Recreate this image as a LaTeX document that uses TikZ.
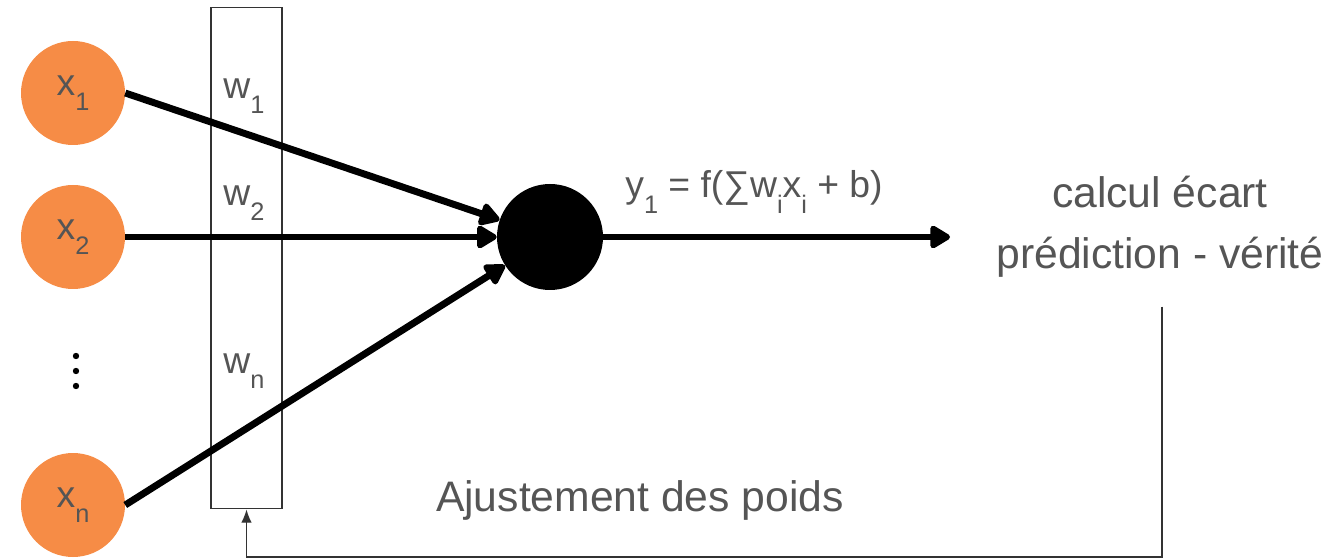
\documentclass[tikz,border=0pt]{standalone}
\usepackage{fontspec}
\setmainfont{Liberation Sans}
\usetikzlibrary{arrows.meta,positioning}
\definecolor{peach}{RGB}{246,140,70}
\definecolor{slate}{RGB}{85,85,85}
\newcommand{\lo}[1]{\raisebox{-0.42em}{\fontsize{19}{19}\selectfont #1}}

\begin{document}
\begin{tikzpicture}[x=0.75pt,y=-0.75pt,
    input/.style={circle,fill=peach,minimum size=78pt,inner sep=0pt,text=slate,font=\fontsize{28}{28}\selectfont},
    wlabel/.style={text=slate,font=\fontsize{28}{28}\selectfont},
    wire/.style={line width=5.2pt,-{Triangle[length=17pt,width=19pt,round]}},
    txt/.style={text=slate,font=\fontsize{32}{46}\selectfont,align=center}]
    \useasboundingbox (0,0) rectangle (1338,559);
    % inputs
    \node[input] (x1) at (73,93) {x\lo{1}};
    \node[input] (x2) at (73,237) {x\lo{2}};
    \node[input] (xn) at (73,505) {x\lo{n}};
    \foreach \y in {356,371,386} \fill (76,\y) circle (3.2);
    % weights
    \node[draw=black!80,line width=1.1pt,minimum width=53pt,minimum height=376pt,inner sep=0pt] (weights) at (246.5,258) {};
    \node[wlabel] (w1) at (244,96) {w\lo{1}};
    \node[wlabel] (w2) at (244,203) {w\lo{2}};
    \node[wlabel] (wn) at (244,371) {w\lo{n}};
    % neuron
    \node[circle,fill=black,minimum size=79.5pt,inner sep=0pt] (neuron) at (550,237) {};
    \draw[wire] (x1.east) -- (neuron);
    \draw[wire] (x2.east) -- (neuron);
    \draw[wire] (xn.east) -- (neuron);
    \coordinate (out) at (950,237);
    \draw[wire] (neuron) -- (out);
    \node[text=slate,font=\fontsize{28}{28}\selectfont] (eq) at (754,192) {y\lo{1} = f(∑w\lo{i}x\lo{i} + b)};
    % error and feedback
    \node[txt] (ecart) at (1160,227) {calcul écart\\prédiction - vérité};
    \node[txt] (ajust) at (640,500) {Ajustement des poids};
    \coordinate (fb) at (1162,557);
    \draw[black!80,line width=1.1pt,-{Latex[length=10pt,width=8pt]}] ([yshift=-18pt]ecart.south -| fb) -- (fb) -| (weights.south);
\end{tikzpicture}
\end{document}
